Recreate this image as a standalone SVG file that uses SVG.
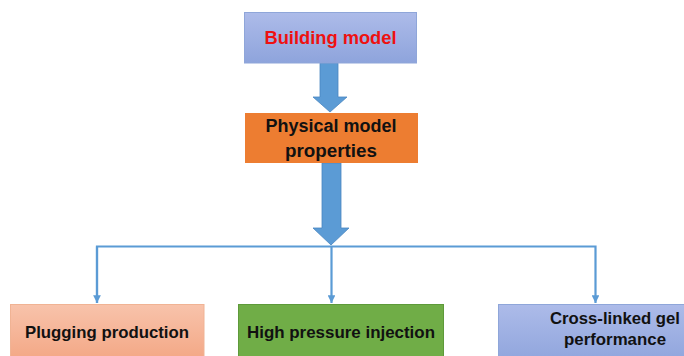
<svg xmlns="http://www.w3.org/2000/svg" width="684" height="356" viewBox="0 0 684 356">
<defs>
<linearGradient id="gBlue" x1="0" y1="0" x2="0" y2="1"><stop offset="0" stop-color="#adbbe9"/><stop offset="1" stop-color="#8ea4dc"/></linearGradient>
<linearGradient id="gSalmon" x1="0" y1="0" x2="0" y2="1"><stop offset="0" stop-color="#f8c3ab"/><stop offset="1" stop-color="#f3a582"/></linearGradient>
<marker id="ah" viewBox="0 0 10 10" refX="10" refY="5" markerWidth="3.5" markerHeight="3.5" orient="auto"><path d="M0,0 L10,5 L0,10 z" fill="#5b9bd5"/></marker>
</defs>
<style>
.t{font-family:"Liberation Sans",Arial,sans-serif;font-weight:bold;text-anchor:middle;fill:#111}
.conn{fill:none;stroke:#5b9bd5;stroke-width:2.2}
.bigarrow{fill:#5b9bd5;stroke:#4a86c0;stroke-width:0.8}
</style>
<rect width="684" height="356" fill="#ffffff"/>
<g id="connectors">
<path class="bigarrow" d="M320,63 H338 V97 H347 L330,112 L313,97 H320 Z"/>
<path class="bigarrow" d="M322,163 H341 V228 H349 L331,245 L313,228 H322 Z"/>
<path class="conn" d="M97,303 V246.5 H595.5 V303" marker-end="url(#ah)"/>
<path class="conn" d="M97,246.5 V303" marker-end="url(#ah)"/>
<path class="conn" d="M331.5,246.5 V303" marker-end="url(#ah)"/>
</g>
<g id="building-model">
<rect x="244.5" y="12.5" width="172" height="50.5" fill="url(#gBlue)" stroke="#8fa6d9" stroke-width="1"/>
<text class="t" x="330.5" y="44" font-size="18" style="fill:#ee1111" textLength="132" lengthAdjust="spacingAndGlyphs">Building model</text>
</g>
<g id="physical-model-properties">
<rect x="245" y="113" width="173" height="50" fill="#ed7d31"/>
<text class="t" x="331" y="132" font-size="18" textLength="131" lengthAdjust="spacingAndGlyphs">Physical model</text>
<text class="t" x="331" y="157" font-size="18" textLength="92" lengthAdjust="spacingAndGlyphs">properties</text>
</g>
<g id="plugging-production">
<rect x="10.5" y="304.5" width="193.5" height="60" fill="url(#gSalmon)" stroke="#f0b394" stroke-width="1"/>
<text class="t" x="107" y="338" font-size="17" textLength="164" lengthAdjust="spacingAndGlyphs">Plugging production</text>
</g>
<g id="high-pressure-injection">
<rect x="238.5" y="304.5" width="205" height="60" fill="#70ad47" stroke="#5e9a3a" stroke-width="1"/>
<text class="t" x="341" y="338" font-size="17" textLength="188" lengthAdjust="spacingAndGlyphs">High pressure injection</text>
</g>
<g id="cross-linked-gel-performance">
<rect x="498.5" y="304.5" width="234" height="60" fill="url(#gBlue)" stroke="#8fa6d9" stroke-width="1"/>
<text class="t" x="615" y="324" font-size="17" textLength="130" lengthAdjust="spacingAndGlyphs">Cross-linked gel</text>
<text class="t" x="615" y="345" font-size="17" textLength="102" lengthAdjust="spacingAndGlyphs">performance</text>
</g>
</svg>
